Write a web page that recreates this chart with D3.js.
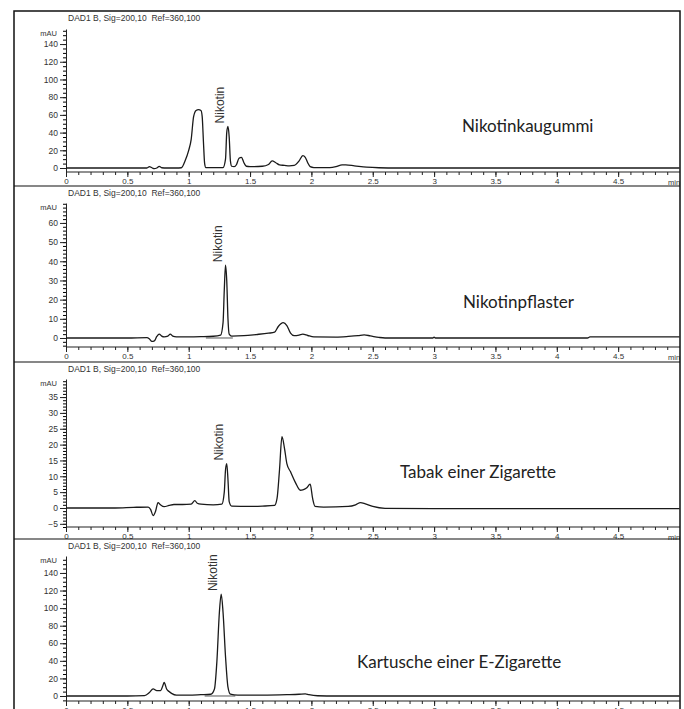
<!DOCTYPE html>
<html>
<head>
<meta charset="utf-8">
<script src="https://cdn.jsdelivr.net/npm/d3@7"></script>
<style>
  body { margin: 0; background: #fff; }
  svg { display: block; }
  .small { font-family: "Liberation Sans", Arial, sans-serif; fill: #333; }
  .sample { font-family: Lato, "Noto Sans", sans-serif; fill: #222; }
</style>
</head>
<body>
<svg id="chart" width="684" height="709"></svg>
<script>
// detector header, same on every run
const signalTitle = 'DAD1 B, Sig=200,10  Ref=360,100';

// sample names, one per trace
const sampleNames = ['Nikotinkaugummi', 'Nikotinpflaster', 'Tabak einer Zigarette', 'Kartusche einer E-Zigarette'];

// y tick steps per trace (major, minor)
const yTickMajor = [[0, 20, 40, 60, 80, 100, 120, 140], [0, 10, 20, 30, 40, 50, 60], [-5, 0, 5, 10, 15, 20, 25, 30, 35], [0, 20, 40, 60, 80, 100, 120, 140]];
const yTickMinorStep = [5, 2, 1, 5];

// retention time ticks (min)
const xTickMajor = d3.range(0, 10).map(i => i / 2);
const xTickMinor = d3.range(0, 50).map(i => i / 10);

// retention time of the nicotine peak in each trace
const nicotineTime = [1.32, 1.30, 1.31, 1.265];

// integration baseline under the nicotine peak [start, end] (min)
const nicotineBase = [null, [1.14, 1.36], null, [1.13, 1.38]];

// traces: [time (min), signal (mAU)]
const kaugummi = [
  [0, 0], [0.5, 0], [0.66, 0], [0.68, 1.5], [0.7, 0.3], [0.72, -0.8], [0.74, 0], [0.76, 1.8], [0.78, 0.3],
  [0.82, 0], [0.9, 0], [0.94, 0.3], [0.97, 8], [1.0, 20], [1.02, 32], [1.04, 58], [1.06, 65], [1.08, 66],
  [1.1, 65], [1.11, 58], [1.12, 30], [1.13, 5], [1.14, 0.5], [1.2, 0.5], [1.28, 0.5], [1.3, 10], [1.31, 40],
  [1.32, 47], [1.33, 35], [1.34, 8], [1.35, 2], [1.37, 1.5], [1.39, 4], [1.41, 11], [1.43, 12], [1.45, 6],
  [1.47, 2], [1.5, 1.5], [1.6, 2], [1.65, 4], [1.68, 8], [1.71, 6], [1.74, 3.5], [1.78, 3], [1.82, 2.5],
  [1.86, 3], [1.9, 8], [1.93, 14], [1.95, 12], [1.97, 6], [1.99, 1.5], [2.02, 0.5], [2.15, 0.5], [2.2, 1.5],
  [2.25, 3.5], [2.28, 3.5], [2.35, 2.5], [2.45, 1], [2.55, 0.3], [2.7, 0], [5, 0]
];

const pflaster = [
  [0, 0], [0.5, 0], [0.66, 0.2], [0.68, -0.5], [0.7, -1.8], [0.72, -1.5], [0.74, 0.8], [0.76, 2], [0.78, 1],
  [0.8, 0.6], [0.83, 1], [0.85, 2], [0.87, 1], [0.9, 0.6], [1.0, 0.6], [1.1, 0.7], [1.2, 0.9], [1.26, 1.5],
  [1.28, 8], [1.29, 25], [1.3, 38], [1.31, 30], [1.32, 10], [1.33, 2], [1.35, 1], [1.45, 1.2], [1.55, 1.8],
  [1.65, 2.5], [1.7, 3], [1.73, 6], [1.77, 8], [1.8, 6.5], [1.83, 2.5], [1.86, 1.2], [1.9, 1.5], [1.93, 2],
  [1.97, 1.3], [2.02, 0.6], [2.2, 0.5], [2.3, 0.8], [2.38, 1.2], [2.43, 1.6], [2.48, 1.1], [2.55, 0.3],
  [2.6, 0], [2.99, 0], [3.0, 0.5], [3.01, 0], [4.25, 0], [4.27, 0.6], [5, 0.6]
];

const tabak = [
  [0, 0], [0.4, 0], [0.55, 0.2], [0.67, 0.3], [0.69, -0.5], [0.71, -2.4], [0.73, -1], [0.75, 1.7], [0.77, 1],
  [0.8, 0.4], [0.84, 0.8], [0.88, 1.1], [0.95, 1.1], [1.02, 1.2], [1.05, 2.3], [1.07, 1.5], [1.1, 1.2],
  [1.2, 1], [1.27, 1.2], [1.29, 5], [1.3, 12], [1.31, 14], [1.32, 9], [1.33, 2], [1.35, 0.6], [1.5, 0.5],
  [1.6, 0.6], [1.7, 0.8], [1.72, 3], [1.74, 12], [1.76, 22.5], [1.78, 19], [1.8, 14], [1.83, 11.4], [1.87, 8],
  [1.91, 5.6], [1.93, 5.7], [1.96, 6.3], [1.99, 7.5], [2.01, 3], [2.03, 0.5], [2.1, 0.3], [2.3, 0.5],
  [2.36, 1], [2.4, 1.7], [2.44, 1.3], [2.5, 0.5], [2.6, -0.1], [3, -0.2], [4, -0.2], [5, -0.2]
];

const kartusche = [
  [0, 0], [0.5, 0], [0.64, 0.5], [0.68, 4], [0.71, 8], [0.74, 6], [0.77, 6], [0.79, 12], [0.8, 15.5],
  [0.82, 8], [0.84, 5], [0.86, 3], [0.9, 1], [1.0, 1], [1.1, 1.5], [1.18, 2], [1.21, 8], [1.23, 40],
  [1.25, 95], [1.265, 116], [1.28, 95], [1.3, 45], [1.32, 10], [1.34, 2], [1.4, 1], [1.6, 1], [1.8, 1.5],
  [1.9, 2], [1.95, 2.5], [1.98, 1.5], [2.05, 0.3], [2.2, 0], [5, 0]
];

const traces = [kaugummi, pflaster, tabak, kartusche];

// layout of the four stacked panels
const frame = { left: 14, right: 680, top: 11, bottom: 709 };
const panelTops = [11, 186, 362, 539];
const panels = [
  { yDomain: [-4.5, 157], yRange: [172, 29], label: [462, 132] },
  { yDomain: [-4.7, 70.4], yRange: [347, 203], label: [463, 308] },
  { yDomain: [-6, 40.7], yRange: [527, 379], label: [400, 478] },
  { yDomain: [-5.7, 159.3], yRange: [701, 556], label: [357, 668] }
];
const plotLeft = 66;

const svg = d3.select('#chart');
const x = d3.scaleLinear().domain([0, 5]).range([plotLeft, 679.5]);

panels.forEach((p, i) => {
  const y = d3.scaleLinear().domain(p.yDomain).range(p.yRange);
  const axisY = p.yRange[0];
  const g = svg.append('g').attr('class', 'panel');

  // header
  g.append('text')
    .attr('class', 'small')
    .attr('x', 68)
    .attr('y', panelTops[i] + 10)
    .attr('font-size', 8.5)
    .attr('xml:space', 'preserve')
    .text(signalTitle);

  // y axis: minor then major
  const yMinor = d3.range(Math.ceil(p.yDomain[0] / yTickMinorStep[i]) * yTickMinorStep[i], p.yDomain[1], yTickMinorStep[i]);
  g.append('g')
    .attr('transform', `translate(${plotLeft},0)`)
    .call(d3.axisLeft(y).tickValues(yMinor).tickSize(3).tickSizeOuter(0).tickFormat(''))
    .call(a => a.select('.domain').remove());

  g.append('g')
    .attr('transform', `translate(${plotLeft},0)`)
    .call(d3.axisLeft(y).tickValues(yTickMajor[i]).tickSize(6).tickSizeOuter(0).tickPadding(2))
    .call(a => a.select('.domain').attr('stroke', '#222'))
    .call(a => a.selectAll('.tick line').attr('stroke', '#222'))
    .call(a => a.selectAll('text').attr('class', 'small').attr('font-size', 8.5).attr('font-family', null).attr('fill', '#333'));

  g.append('text')
    .attr('class', 'small')
    .attr('x', 57)
    .attr('y', p.yRange[1] + 7)
    .attr('text-anchor', 'end')
    .attr('font-size', 7.5)
    .text('mAU');

  // x axis
  g.append('g')
    .attr('transform', `translate(0,${axisY})`)
    .call(d3.axisBottom(x).tickValues(xTickMinor).tickSize(3).tickSizeOuter(0).tickFormat(''))
    .call(a => a.select('.domain').remove())
    .call(a => a.selectAll('.tick line').attr('stroke', '#222'));

  g.append('g')
    .attr('transform', `translate(0,${axisY})`)
    .call(d3.axisBottom(x).tickValues(xTickMajor).tickSize(5).tickSizeOuter(0).tickPadding(1).tickFormat(d => String(d)))
    .call(a => a.select('.domain').remove())
    .call(a => a.selectAll('.tick line').attr('stroke', '#222'))
    .call(a => a.selectAll('text').attr('class', 'small').attr('font-size', 8).attr('font-family', null).attr('fill', '#333'));

  g.append('line')
    .attr('x1', plotLeft).attr('x2', frame.right)
    .attr('y1', axisY).attr('y2', axisY)
    .attr('stroke', '#222').attr('stroke-width', 1.2);

  g.append('text')
    .attr('class', 'small')
    .attr('x', 668)
    .attr('y', axisY + 13)
    .attr('font-size', 7.5)
    .text('min');

  // integration baseline
  if (nicotineBase[i]) {
    g.append('line')
      .attr('x1', x(nicotineBase[i][0])).attr('x2', x(nicotineBase[i][1]))
      .attr('y1', y(0)).attr('y2', y(0))
      .attr('stroke', '#555').attr('stroke-width', 1);
  }

  // trace
  g.append('path')
    .datum(traces[i])
    .attr('fill', 'none')
    .attr('stroke', '#1a1a1a')
    .attr('stroke-width', 1.3)
    .attr('stroke-linejoin', 'round')
    .attr('d', d3.line().x(d => x(d[0])).y(d => y(d[1])).curve(d3.curveMonotoneX));

  // nicotine label above its peak
  const peak = d3.max(traces[i].filter(d => Math.abs(d[0] - nicotineTime[i]) < 0.03), d => d[1]);
  const lx = x(nicotineTime[i]) - 8;
  const ly = y(peak) - 3;
  g.append('text')
    .attr('class', 'small')
    .attr('transform', `translate(${lx},${ly}) rotate(-90)`)
    .attr('dy', '0.35em')
    .attr('font-size', 12)
    .attr('fill', '#222')
    .text('Nikotin');

  // sample name
  g.append('text')
    .attr('class', 'sample')
    .attr('x', p.label[0])
    .attr('y', p.label[1])
    .attr('font-size', 17)
    .text(sampleNames[i]);
});

// frame and panel separators
svg.append('path')
  .attr('d', `M${frame.left},${frame.bottom}V${frame.top}H${frame.right}V${frame.bottom}`)
  .attr('fill', 'none')
  .attr('stroke', '#111')
  .attr('stroke-width', 1.5);

svg.selectAll('line.sep')
  .data(panelTops.slice(1))
  .join('line')
  .attr('class', 'sep')
  .attr('x1', frame.left).attr('x2', frame.right)
  .attr('y1', d => d).attr('y2', d => d)
  .attr('stroke', '#111')
  .attr('stroke-width', 1.2);
</script>
</body>
</html>
